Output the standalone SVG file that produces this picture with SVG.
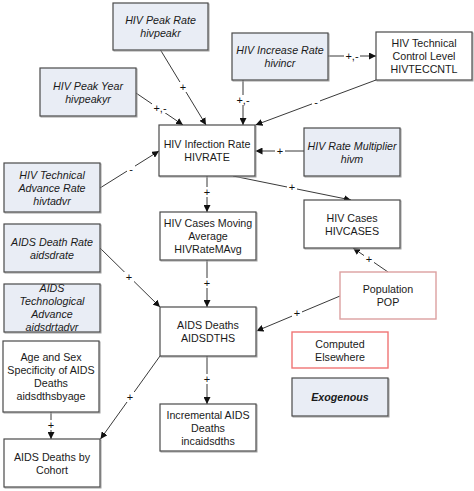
<svg xmlns="http://www.w3.org/2000/svg" width="474" height="491" viewBox="0 0 474 491">
<style>
.box{fill:#fff;stroke:#4a4a4a;stroke-width:1.2}
.exo{fill:#e9edf5;stroke:#4a4a4a;stroke-width:1.2}
.sh{fill:none;stroke:#a0a0a0;stroke-width:1}
.pop{fill:#fff;stroke:#dca0a0;stroke-width:1.4}
.comp{fill:#fff;stroke:#f07474;stroke-width:1.4}
text{font-family:"Liberation Sans",Arial,sans-serif;font-size:10.7px;fill:#1a1a1a;text-anchor:middle}
.it{font-style:italic}
.bi{font-style:italic;font-weight:bold}
.ln{fill:none;stroke:#222;stroke-width:0.9;marker-end:url(#ah)}
.lb{font-size:11px;fill:#111}
.bg{fill:#fff}
</style>
<defs>
<marker id="ah" markerUnits="userSpaceOnUse" markerWidth="8" markerHeight="7" refX="7" refY="3.5" orient="auto">
<path d="M0,0 L7,3.5 L0,7 z" fill="#111"/>
</marker>
</defs>
<rect width="474" height="491" fill="#fff"/>

<g id="connectors">
<line class="ln" x1="160.5" y1="50" x2="206" y2="125"/>
<line class="ln" x1="136" y1="93" x2="183" y2="125"/>
<line class="ln" x1="243" y1="80" x2="243" y2="125"/>
<line class="ln" x1="328" y1="56" x2="376" y2="56"/>
<line class="ln" x1="376" y1="80" x2="255.5" y2="125"/>
<line class="ln" x1="304" y1="151" x2="255.5" y2="151"/>
<line class="ln" x1="100" y1="188" x2="159" y2="151"/>
<line class="ln" x1="207" y1="176" x2="207" y2="212"/>
<line class="ln" x1="233" y1="176" x2="351" y2="200"/>
<line class="ln" x1="207" y1="260" x2="207" y2="307"/>
<line class="ln" x1="100" y1="248" x2="160" y2="307"/>
<line class="ln" x1="388" y1="272" x2="353" y2="248"/>
<line class="ln" x1="340" y1="296" x2="256.5" y2="331"/>
<line class="ln" x1="207" y1="356" x2="207" y2="404"/>
<line class="ln" x1="160" y1="356" x2="100.5" y2="439"/>
<line class="ln" x1="51" y1="412" x2="51" y2="439"/>
<rect class="bg" x="178" y="82" width="10" height="10"/><text class="lb" x="183" y="91">+</text>
<rect class="bg" x="152" y="103" width="16" height="10"/><text class="lb" x="160" y="112">+,-</text>
<rect class="bg" x="235" y="95" width="16" height="10"/><text class="lb" x="243" y="104">+,-</text>
<rect class="bg" x="344" y="51" width="16" height="10"/><text class="lb" x="352" y="60">+,-</text>
<rect class="bg" x="312" y="98" width="8" height="10"/><text class="lb" x="316" y="106">-</text>
<rect class="bg" x="275" y="146" width="10" height="10"/><text class="lb" x="280" y="155">+</text>
<rect class="bg" x="127" y="165" width="8" height="10"/><text class="lb" x="131" y="173">-</text>
<rect class="bg" x="202" y="187" width="10" height="10"/><text class="lb" x="207" y="196">+</text>
<rect class="bg" x="287" y="182" width="10" height="10"/><text class="lb" x="292" y="191">+</text>
<rect class="bg" x="202" y="278" width="10" height="10"/><text class="lb" x="207" y="287">+</text>
<rect class="bg" x="124" y="272" width="10" height="10"/><text class="lb" x="129" y="281">+</text>
<rect class="bg" x="364" y="254" width="10" height="10"/><text class="lb" x="369" y="263">+</text>
<rect class="bg" x="292" y="308" width="10" height="10"/><text class="lb" x="297" y="317">+</text>
<rect class="bg" x="202" y="374" width="10" height="10"/><text class="lb" x="207" y="383">+</text>
<rect class="bg" x="125" y="392" width="10" height="10"/><text class="lb" x="130" y="401">+</text>
<rect class="bg" x="46" y="420" width="10" height="10"/><text class="lb" x="51" y="429">+</text>
</g>

<g id="hivpeakr">
<rect class="sh" x="114" y="4" width="95" height="47"/>
<rect class="exo" x="113" y="3" width="95" height="47"/>
<text class="it" x="160.5" y="24">HIV Peak Rate</text>
<text class="it" x="160.5" y="37">hivpeakr</text>
</g>
<g id="hivpeakyr">
<rect class="sh" x="41" y="69" width="96" height="48"/>
<rect class="exo" x="40" y="68" width="96" height="48"/>
<text class="it" x="88" y="89.5">HIV Peak Year</text>
<text class="it" x="88" y="102.5">hivpeakyr</text>
</g>
<g id="hivincr">
<rect class="sh" x="233" y="34" width="96" height="47"/>
<rect class="exo" x="232" y="33" width="96" height="47"/>
<text class="it" x="280" y="54">HIV Increase Rate</text>
<text class="it" x="280" y="67">hivincr</text>
</g>
<g id="hivteccntl">
<rect class="sh" x="377" y="33" width="96" height="48"/>
<rect class="box" x="376" y="32" width="96" height="48"/>
<text x="424" y="47">HIV Technical</text>
<text x="424" y="60">Control Level</text>
<text x="424" y="73">HIVTECCNTL</text>
</g>
<g id="hivrate">
<rect class="sh" x="160" y="126" width="96" height="51"/>
<rect class="box" x="159" y="125" width="96" height="51"/>
<text x="207" y="148">HIV Infection Rate</text>
<text x="207" y="161">HIVRATE</text>
</g>
<g id="hivm">
<rect class="sh" x="305" y="129" width="96" height="48"/>
<rect class="exo" x="304" y="128" width="96" height="48"/>
<text class="it" x="352" y="149.5">HIV Rate Multiplier</text>
<text class="it" x="352" y="162.5">hivm</text>
</g>
<g id="hivtadvr">
<rect class="sh" x="5" y="164" width="96" height="49"/>
<rect class="exo" x="4" y="163" width="96" height="49"/>
<text class="it" x="52" y="178.5">HIV Technical</text>
<text class="it" x="52" y="191.5">Advance Rate</text>
<text class="it" x="52" y="204.5">hivtadvr</text>
</g>
<g id="aidsdrate">
<rect class="sh" x="5" y="225" width="96" height="48"/>
<rect class="exo" x="4" y="224" width="96" height="48"/>
<text class="it" x="52" y="245.5">AIDS Death Rate</text>
<text class="it" x="52" y="258.5">aidsdrate</text>
</g>
<g id="aidsdrtadvr">
<rect class="sh" x="5" y="285" width="96" height="48"/>
<rect class="exo" x="4" y="284" width="96" height="48"/>
<text class="it" x="52" y="292">AIDS</text>
<text class="it" x="52" y="305">Technological</text>
<text class="it" x="52" y="318">Advance</text>
<text class="it" x="52" y="331">aidsdrtadvr</text>
</g>
<g id="aidsdthsbyage">
<rect class="sh" x="4" y="342" width="96" height="71"/>
<rect class="box" x="3" y="341" width="96" height="71"/>
<text x="51" y="361">Age and Sex</text>
<text x="51" y="374">Specificity of AIDS</text>
<text x="51" y="387">Deaths</text>
<text x="51" y="400">aidsdthsbyage</text>
</g>
<g id="cohort">
<rect class="sh" x="5" y="440" width="96" height="48"/>
<rect class="box" x="4" y="439" width="96" height="48"/>
<text x="52" y="460.5">AIDS Deaths by</text>
<text x="52" y="473.5">Cohort</text>
</g>
<g id="hivratemavg">
<rect class="sh" x="161" y="213" width="96" height="48"/>
<rect class="box" x="160" y="212" width="96" height="48"/>
<text x="208" y="227">HIV Cases Moving</text>
<text x="208" y="240">Average</text>
<text x="208" y="253">HIVRateMAvg</text>
</g>
<g id="aidsdths">
<rect class="sh" x="161" y="308" width="96" height="49"/>
<rect class="box" x="160" y="307" width="96" height="49"/>
<text x="208" y="329">AIDS Deaths</text>
<text x="208" y="342">AIDSDTHS</text>
</g>
<g id="incaidsdths">
<rect class="sh" x="161" y="405" width="96" height="47"/>
<rect class="box" x="160" y="404" width="96" height="47"/>
<text x="208" y="418.5">Incremental AIDS</text>
<text x="208" y="431.5">Deaths</text>
<text x="208" y="444.5">incaidsdths</text>
</g>
<g id="hivcases">
<rect class="sh" x="305" y="201" width="96" height="48"/>
<rect class="box" x="304" y="200" width="96" height="48"/>
<text x="352" y="221.5">HIV Cases</text>
<text x="352" y="234.5">HIVCASES</text>
</g>
<g id="pop">
<rect class="pop" x="340" y="272" width="96" height="47"/>
<text x="388" y="293">Population</text>
<text x="388" y="306">POP</text>
</g>
<g id="computed">
<rect class="comp" x="292" y="332" width="96" height="36"/>
<text x="340" y="347.5">Computed</text>
<text x="340" y="360.5">Elsewhere</text>
</g>
<g id="exogenous">
<rect class="sh" x="293" y="379" width="96" height="38"/>
<rect class="exo" x="292" y="378" width="96" height="38"/>
<text class="bi" x="340" y="401">Exogenous</text>
</g>
</svg>
